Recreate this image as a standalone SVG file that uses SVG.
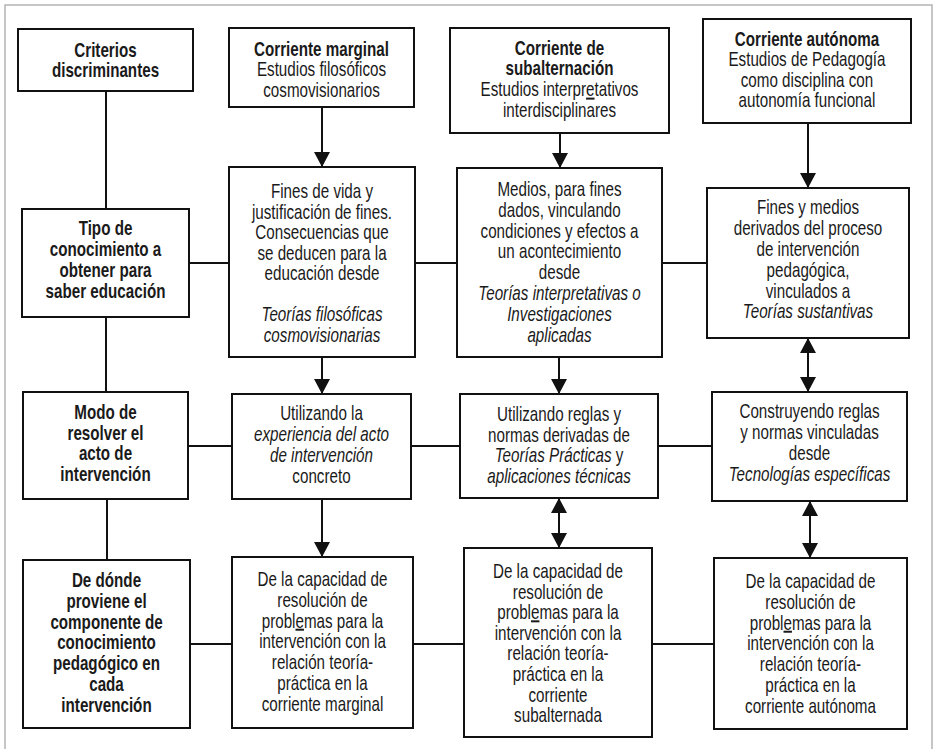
<svg xmlns="http://www.w3.org/2000/svg" width="935" height="749" viewBox="0 0 935 749">
<defs>
<style>
.box{fill:#fff;stroke:#111;stroke-width:2}
.t{font-family:"Liberation Sans",Arial,sans-serif;font-size:20px;fill:#1a1a1a;text-anchor:middle}
.b{font-weight:bold}
.i{font-style:italic}
.u{text-decoration:underline}
.ln{fill:none;stroke:#111;stroke-width:2}
.frame{fill:none;stroke:#b4b4b4;stroke-width:1.5}
</style>
<marker id="arr" markerUnits="userSpaceOnUse" markerWidth="16" markerHeight="16" viewBox="0 0 16 16" refX="15" refY="8" orient="auto-start-reverse">
<path d="M0,0 L15,8 L0,16 Z" fill="#111"/>
</marker>
</defs>
<rect width="935" height="749" fill="#fff"/>
<path class="frame" d="M5,749 V5 H932 V749"/>

<g id="connectors">
<path class="ln" d="M106,91 V209"/>
<path class="ln" d="M106,317 V392"/>
<path class="ln" d="M107,499 V560"/>
<path class="ln" d="M322,107 V167" marker-end="url(#arr)"/>
<path class="ln" d="M322,357 V394" marker-end="url(#arr)"/>
<path class="ln" d="M322,499 V557" marker-end="url(#arr)"/>
<path class="ln" d="M560,133 V168" marker-end="url(#arr)"/>
<path class="ln" d="M559,357 V394" marker-end="url(#arr)"/>
<path class="ln" d="M559,498 V548" marker-start="url(#arr)" marker-end="url(#arr)"/>
<path class="ln" d="M808,123 V188" marker-end="url(#arr)"/>
<path class="ln" d="M808,338 V392" marker-start="url(#arr)" marker-end="url(#arr)"/>
<path class="ln" d="M810,501 V558" marker-start="url(#arr)" marker-end="url(#arr)"/>
<path class="ln" d="M189,263 H229 M415,263 H457 M662,263 H707"/>
<path class="ln" d="M188,446 H232 M411,446 H460 M658,446 H712"/>
<path class="ln" d="M190,644 H232 M413,644 H464 M652,644 H714"/>
</g>

<g id="n-criterios">
<rect class="box" x="18" y="29" width="175" height="62"/>
<text class="t b" transform="translate(105.5 0) scale(0.76 1)"><tspan x="0" y="57">Criterios</tspan><tspan x="0" y="77.5">discriminantes</tspan></text>
</g>

<g id="n-marginal">
<rect class="box" x="229" y="28" width="185" height="79"/>
<text class="t" transform="translate(321.5 0) scale(0.76 1)"><tspan x="0" y="56" class="b">Corriente marginal</tspan><tspan x="0" y="76.5">Estudios filosóficos</tspan><tspan x="0" y="97">cosmovisionarios</tspan></text>
</g>

<g id="n-subalternacion">
<rect class="box" x="450" y="28" width="219" height="105"/>
<text class="t" transform="translate(559.5 0) scale(0.76 1)"><tspan x="0" y="55" class="b">Corriente de</tspan><tspan x="0" y="75.5" class="b">subalternación</tspan><tspan x="0" y="96.5">Estudios interpr<tspan class="u">e</tspan>tativos</tspan><tspan x="0" y="117.5">interdisciplinares</tspan></text>
</g>

<g id="n-autonoma">
<rect class="box" x="703" y="19" width="208" height="104"/>
<text class="t" transform="translate(807 0) scale(0.76 1)"><tspan x="0" y="46" class="b">Corriente autónoma</tspan><tspan x="0" y="66.5">Estudios de Pedagogía</tspan><tspan x="0" y="87">como disciplina con</tspan><tspan x="0" y="107.5">autonomía funcional</tspan></text>
</g>

<g id="n-tipo">
<rect class="box" x="22" y="209" width="167" height="108"/>
<text class="t b" transform="translate(105.5 0) scale(0.76 1)"><tspan x="0" y="235.5">Tipo de</tspan><tspan x="0" y="256.5">conocimiento a</tspan><tspan x="0" y="277.5">obtener para</tspan><tspan x="0" y="298.5">saber educación</tspan></text>
</g>

<g id="n-fines-vida">
<rect class="box" x="229" y="167" width="186" height="190"/>
<text class="t" transform="translate(322 0) scale(0.76 1)"><tspan x="0" y="198.5">Fines de vida y</tspan><tspan x="0" y="219">justificación de fines.</tspan><tspan x="0" y="239.5">Consecuencias que</tspan><tspan x="0" y="260">se deducen para la</tspan><tspan x="0" y="280.5">educación desde</tspan><tspan x="0" y="321.5" class="i">Teorías filosóficas</tspan><tspan x="0" y="342" class="i">cosmovisionarias</tspan></text>
</g>

<g id="n-medios">
<rect class="box" x="457" y="168" width="205" height="189"/>
<text class="t" transform="translate(559.5 0) scale(0.76 1)"><tspan x="0" y="196">Medios, para fines</tspan><tspan x="0" y="216.8">dados, vinculando</tspan><tspan x="0" y="237.6">condiciones y efectos a</tspan><tspan x="0" y="258.4">un acontecimiento</tspan><tspan x="0" y="279.2">desde</tspan><tspan x="0" y="300" class="i">Teorías interpretativas o</tspan><tspan x="0" y="320.8" class="i">Investigaciones</tspan><tspan x="0" y="341.6" class="i">aplicadas</tspan></text>
</g>

<g id="n-fines-medios">
<rect class="box" x="707" y="188" width="202" height="150"/>
<text class="t" transform="translate(808 0) scale(0.76 1)"><tspan x="0" y="214.5">Fines y medios</tspan><tspan x="0" y="235.3">derivados del proceso</tspan><tspan x="0" y="256">de intervención</tspan><tspan x="0" y="276.8">pedagógica,</tspan><tspan x="0" y="297.6">vinculados a</tspan><tspan x="0" y="318.4" class="i">Teorías sustantivas</tspan></text>
</g>

<g id="n-modo">
<rect class="box" x="23" y="392" width="165" height="107"/>
<text class="t b" transform="translate(105.5 0) scale(0.76 1)"><tspan x="0" y="419">Modo de</tspan><tspan x="0" y="440">resolver el</tspan><tspan x="0" y="460.5">acto de</tspan><tspan x="0" y="481.5">intervención</tspan></text>
</g>

<g id="n-utilizando-la">
<rect class="box" x="232" y="394" width="179" height="105"/>
<text class="t" transform="translate(321.5 0) scale(0.76 1)"><tspan x="0" y="420">Utilizando la</tspan><tspan x="0" y="441" class="i">experiencia del acto</tspan><tspan x="0" y="462" class="i">de intervención</tspan><tspan x="0" y="483">concreto</tspan></text>
</g>

<g id="n-utilizando-reglas">
<rect class="box" x="460" y="394" width="198" height="104"/>
<text class="t" transform="translate(559 0) scale(0.76 1)"><tspan x="0" y="421">Utilizando reglas y</tspan><tspan x="0" y="441.7">normas derivadas de</tspan><tspan x="0" y="462.4"><tspan class="i">Teorías Prácticas</tspan> y</tspan><tspan x="0" y="483" class="i">aplicaciones técnicas</tspan></text>
</g>

<g id="n-construyendo">
<rect class="box" x="712" y="392" width="195" height="109"/>
<text class="t" transform="translate(809.5 0) scale(0.76 1)"><tspan x="0" y="418">Construyendo reglas</tspan><tspan x="0" y="439">y normas vinculadas</tspan><tspan x="0" y="460">desde</tspan><tspan x="0" y="481" class="i">Tecnologías específicas</tspan></text>
</g>

<g id="n-de-donde">
<rect class="box" x="23" y="560" width="167" height="168"/>
<text class="t b" transform="translate(106.5 0) scale(0.76 1)"><tspan x="0" y="587">De dónde</tspan><tspan x="0" y="607.8">proviene el</tspan><tspan x="0" y="628.6">componente de</tspan><tspan x="0" y="649.4">conocimiento</tspan><tspan x="0" y="670.2">pedagógico en</tspan><tspan x="0" y="691">cada</tspan><tspan x="0" y="711.8">intervención</tspan></text>
</g>

<g id="n-capacidad-marginal">
<rect class="box" x="232" y="557" width="181" height="171"/>
<text class="t" transform="translate(322.5 0) scale(0.76 1)"><tspan x="0" y="586">De la capacidad de</tspan><tspan x="0" y="606.8">resolución de</tspan><tspan x="0" y="627.6">probl<tspan class="u">e</tspan>mas para la</tspan><tspan x="0" y="648.4">intervención con la</tspan><tspan x="0" y="669.2">relación teoría-</tspan><tspan x="0" y="690">práctica en la</tspan><tspan x="0" y="710.8">corriente marginal</tspan></text>
</g>

<g id="n-capacidad-subalternada">
<rect class="box" x="464" y="548" width="188" height="189"/>
<text class="t" transform="translate(558 0) scale(0.76 1)"><tspan x="0" y="578">De la capacidad de</tspan><tspan x="0" y="598.6">resolución de</tspan><tspan x="0" y="619.2">probl<tspan class="u">e</tspan>mas para la</tspan><tspan x="0" y="639.8">intervención con la</tspan><tspan x="0" y="660.4">relación teoría-</tspan><tspan x="0" y="681">práctica en la</tspan><tspan x="0" y="701.6">corriente</tspan><tspan x="0" y="722.2">subalternada</tspan></text>
</g>

<g id="n-capacidad-autonoma">
<rect class="box" x="714" y="558" width="193" height="171"/>
<text class="t" transform="translate(810.5 0) scale(0.76 1)"><tspan x="0" y="588">De la capacidad de</tspan><tspan x="0" y="608.8">resolución de</tspan><tspan x="0" y="629.6">probl<tspan class="u">e</tspan>mas para la</tspan><tspan x="0" y="650.4">intervención con la</tspan><tspan x="0" y="671.2">relación teoría-</tspan><tspan x="0" y="692">práctica en la</tspan><tspan x="0" y="712.8">corriente autónoma</tspan></text>
</g>
</svg>
